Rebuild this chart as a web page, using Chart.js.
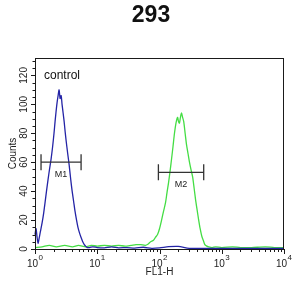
<!DOCTYPE html>
<html>
<head>
<meta charset="utf-8">
<script src="https://cdn.jsdelivr.net/npm/chart.js@4/dist/chart.umd.min.js"></script>
<style>
html,body{margin:0;padding:0;background:#fff;}
#c{display:block;}
</style>
</head>
<body>
<canvas id="c" width="305" height="296"></canvas>
<script>
const chartTitle = '293';
const xAxisTitle = 'FL1-H';
const yAxisTitle = 'Counts';
const annotationText = 'control';

const blueX = [1.0, 1.04, 1.08, 1.12, 1.16, 1.22, 1.3, 1.38, 1.45, 1.53, 1.62, 1.71, 1.81, 1.91, 2.02, 2.1, 2.18, 2.26, 2.35, 2.44, 2.53, 2.63, 2.72, 2.83, 2.94, 3.05, 3.16, 3.35, 3.54, 3.75, 3.95, 4.17, 4.4, 4.65, 4.9, 5.2, 5.5, 5.85, 6.2, 6.5, 6.9, 7.5, 8.5, 10, 13, 17, 22, 30, 40, 55, 75, 100, 140, 200, 300, 500, 1000, 2000, 5000, 10000];
const blueY = [10, 14, 8, 4, 7, 12, 18, 25, 32, 40, 48, 55, 62, 70, 80, 88, 95, 101, 106, 110, 104, 106, 100, 94, 88, 81, 75, 66, 58, 48, 40, 33, 26, 20, 15, 11, 8, 5, 3, 2, 1, 1, 1.5, 1, 0.8, 1.5, 0.8, 1, 0.6, 1.2, 0.5, 0.8, 1.6, 1.8, 0.5, 0.5, 0.4, 0.4, 0.4, 0.4];

const greenX = [1, 1.3, 1.7, 2.2, 3, 4, 5, 6.5, 8, 10, 13, 17, 22, 28, 35, 42, 50, 59, 66, 72, 80, 86, 93, 100, 108, 116, 125, 132, 140, 148, 156, 165, 174, 184, 195, 202, 209, 217, 226, 235, 245, 258, 272, 287, 303, 320, 340, 360, 380, 402, 426, 450, 477, 505, 535, 575, 616, 700, 800, 1000, 1500, 2000, 3000, 5000, 7000, 10000];
const greenY = [1, 1.5, 2.5, 1.5, 2.5, 1.5, 2.5, 1.5, 2.5, 2, 2.5, 2, 2.5, 2, 2.5, 3, 3, 2.5, 3.5, 5, 6, 8, 10, 14, 20, 26, 32, 39, 46, 54, 62, 71, 80, 87, 91, 88, 87, 91, 94, 91, 88, 80, 72, 66, 60, 55, 50, 42, 34, 27, 20, 14, 9, 6, 3, 2, 1.5, 1, 1.5, 1, 1.5, 1, 1, 1.5, 1, 1];

const markerNames = ['M1', 'M2'];
const markerStart = [1.25, 96];
const markerEnd = [5.5, 513];
const markerLevel = [60, 53];

const xTickValues = [1, 10, 100, 1000, 10000];
const xTickExponents = ['0', '1', '2', '3', '4'];
const yTickValues = [0, 20, 40, 60, 80, 100, 120];
const yTickLabels = ['0', '20', '40', '60', '80', '100', '120'];

const FONT = '"Liberation Sans", Arial, sans-serif';

function toPoints(xs, ys) { return xs.map((x, i) => ({x: x, y: ys[i]})); }

const decor = {
  id: 'decor',
  afterDatasetsDraw(chart) {
    const ctx = chart.ctx;
    const xs = chart.scales.x, ys = chart.scales.y;
    const a = chart.chartArea;
    ctx.save();
    // title
    ctx.fillStyle = '#111';
    ctx.font = 'bold 23px ' + FONT;
    ctx.textAlign = 'center';
    ctx.textBaseline = 'middle';
    ctx.fillText(chartTitle, 151, 16);
    // frame
    ctx.strokeStyle = '#1a1a1a';
    ctx.lineWidth = 1;
    ctx.strokeRect(Math.round(a.left) + 0.5, Math.round(a.top) + 0.5, Math.round(a.right - a.left) - 1, Math.round(a.bottom - a.top));
    // y ticks
    ctx.beginPath();
    for (let v = 0; v <= 130; v += 5) {
      const p = Math.round(ys.getPixelForValue(v)) + 0.5;
      const len = (v % 20 === 0) ? 4 : 2.5;
      ctx.moveTo(a.left - len, p); ctx.lineTo(a.left, p);
    }
    // x ticks
    for (let d = 0; d < 4; d++) {
      for (let k = 1; k <= 9; k++) {
        const p = Math.round(xs.getPixelForValue(k * Math.pow(10, d))) + 0.5;
        const len = k === 1 ? 5 : 3;
        ctx.moveTo(p, a.bottom); ctx.lineTo(p, a.bottom + len);
      }
    }
    const pe = Math.round(xs.getPixelForValue(10000)) + 0.5;
    ctx.moveTo(pe, a.bottom); ctx.lineTo(pe, a.bottom + 5);
    ctx.stroke();
    // y labels (rotated)
    ctx.fillStyle = '#222';
    ctx.font = '10px ' + FONT;
    ctx.textAlign = 'center';
    ctx.textBaseline = 'middle';
    yTickValues.forEach((v, i) => {
      const p = ys.getPixelForValue(v);
      ctx.save();
      ctx.translate(a.left - 11, p);
      ctx.rotate(-Math.PI / 2);
      ctx.fillText(yTickLabels[i], 0, 0);
      ctx.restore();
    });
    // x labels with superscript
    ctx.textBaseline = 'alphabetic';
    xTickValues.forEach((v, i) => {
      const p = xs.getPixelForValue(v);
      ctx.font = '10px ' + FONT;
      ctx.textAlign = 'right';
      ctx.fillText('10', p + 3, 267);
      ctx.font = '8px ' + FONT;
      ctx.textAlign = 'left';
      ctx.fillText(xTickExponents[i], p + 3.5, 260);
    });
    // markers
    ctx.strokeStyle = '#333';
    ctx.lineWidth = 1.3;
    markerNames.forEach((name, i) => {
      const x1 = xs.getPixelForValue(markerStart[i]);
      const x2 = xs.getPixelForValue(markerEnd[i]);
      const y = ys.getPixelForValue(markerLevel[i]);
      ctx.beginPath();
      ctx.moveTo(x1, y); ctx.lineTo(x2, y);
      ctx.moveTo(x1, y - 8); ctx.lineTo(x1, y + 8);
      ctx.moveTo(x2, y - 8); ctx.lineTo(x2, y + 8);
      ctx.stroke();
      ctx.fillStyle = '#222';
      ctx.font = '9px ' + FONT;
      ctx.textAlign = 'center';
      ctx.textBaseline = 'middle';
      ctx.fillText(name, (x1 + x2) / 2, y + 12);
    });
    // control label
    ctx.fillStyle = '#111';
    ctx.font = '12px ' + FONT;
    ctx.textAlign = 'left';
    ctx.textBaseline = 'alphabetic';
    ctx.fillText(annotationText, a.left + 9, 79);
    ctx.restore();
  }
};

new Chart(document.getElementById('c'), {
  type: 'line',
  data: {
    datasets: [
      {data: toPoints(blueX, blueY), borderColor: '#2424a6', borderWidth: 1.3, pointRadius: 0, tension: 0.25, fill: false, clip: 3},
      {data: toPoints(greenX, greenY), borderColor: '#44dd44', borderWidth: 1.3, pointRadius: 0, tension: 0.25, fill: false, clip: 3}
    ]
  },
  options: {
    responsive: false,
    animation: false,
    devicePixelRatio: 1,
    layout: {padding: {left: 0, right: 21, top: 58, bottom: 0}},
    plugins: {
      legend: {display: false},
      tooltip: {enabled: false},
      title: {display: false}
    },
    scales: {
      x: {
        type: 'logarithmic',
        min: 1, max: 10000,
        grid: {display: false, drawTicks: false},
        border: {display: false},
        ticks: {display: false},
        title: {display: true, text: xAxisTitle, color: '#222', font: {family: FONT, size: 10}, padding: {top: 0, bottom: 18}},
        afterFit(s) { s.height = 47; }
      },
      y: {
        type: 'linear',
        min: 0, max: 132,
        grid: {display: false, drawTicks: false},
        border: {display: false},
        ticks: {display: false},
        title: {display: true, text: yAxisTitle, color: '#222', font: {family: FONT, size: 10}, padding: {top: 7, bottom: 0}},
        afterFit(s) { s.width = 35; }
      }
    }
  },
  plugins: [decor]
});
</script>
</body>
</html>
